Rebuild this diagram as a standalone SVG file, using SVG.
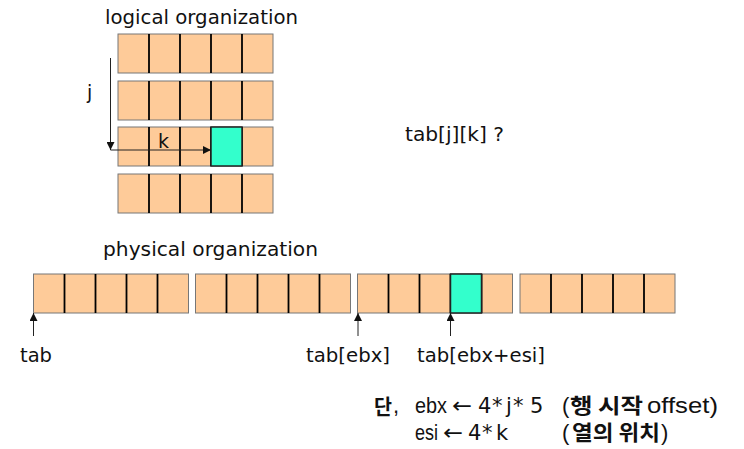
<svg xmlns="http://www.w3.org/2000/svg" width="744" height="449" viewBox="0 0 744 449">
<style>
.t{font-family:"DejaVu Sans","Noto Sans CJK KR",sans-serif;font-size:19px;fill:#111}
.b{font-family:"Liberation Sans","Noto Sans CJK KR",sans-serif;font-size:22px;fill:#111}
.s{font-family:"DejaVu Sans",sans-serif;font-size:21px;fill:#111}
.a{font-family:"DejaVu Sans",sans-serif;font-size:22px;fill:#111}
.kb{font-family:"Noto Sans CJK KR",sans-serif;font-weight:bold;font-size:21px;fill:#111}
.row{fill:#FECB99;stroke:#777;stroke-width:1}
.hl{fill:#33FFCC;stroke:#222;stroke-width:1.5}
.div{stroke:#000;stroke-width:1.8}
.ar{stroke:#222;stroke-width:1;fill:none}
</style>
<defs>
<marker id="ah" viewBox="0 0 10 10" refX="10" refY="5" markerWidth="8" markerHeight="8" markerUnits="userSpaceOnUse" orient="auto"><path d="M0,0 L10,5 L0,10 Z" fill="#111"/></marker>
<g id="block">
<rect class="row" x="0" y="0" width="155" height="39"/>
<line class="div" x1="31" y1="0" x2="31" y2="39"/>
<line class="div" x1="62" y1="0" x2="62" y2="39"/>
<line class="div" x1="93" y1="0" x2="93" y2="39"/>
<line class="div" x1="124" y1="0" x2="124" y2="39"/>
</g>
</defs>
<rect width="744" height="449" fill="#fff"/>

<g id="logical">
<text class="t" x="105" y="24" textLength="193" lengthAdjust="spacingAndGlyphs">logical organization</text>
<use href="#block" x="118" y="34"/>
<use href="#block" x="118" y="81"/>
<use href="#block" x="118" y="127"/>
<use href="#block" x="118" y="174"/>
<rect class="hl" x="211" y="127" width="31" height="39"/>
</g>

<g id="labels-jk">
<text class="t" x="87" y="99">j</text>
<text class="t" x="158" y="148">k</text>
</g>

<g id="question">
<text class="t" x="405" y="141" textLength="99" lengthAdjust="spacingAndGlyphs">tab[j][k] ?</text>
</g>

<g id="physical">
<text class="t" x="103" y="256" textLength="215" lengthAdjust="spacingAndGlyphs">physical organization</text>
<use href="#block" x="33.5" y="274"/>
<use href="#block" x="195.5" y="274"/>
<use href="#block" x="357.5" y="274"/>
<use href="#block" x="520" y="274"/>
<rect class="hl" x="450.5" y="274" width="31" height="39"/>
</g>

<g id="pointer-labels">
<text class="t" x="20" y="362" textLength="32" lengthAdjust="spacingAndGlyphs">tab</text>
<text class="t" x="306" y="362" textLength="84" lengthAdjust="spacingAndGlyphs">tab[ebx]</text>
<text class="t" x="417" y="362" textLength="128" lengthAdjust="spacingAndGlyphs">tab[ebx+esi]</text>
</g>

<g id="connectors">
<path class="ar" d="M110.5,58 V150" marker-end="url(#ah)"/>
<path class="ar" d="M110.5,150 H211" marker-end="url(#ah)"/>
<path class="ar" d="M33.5,336 V313" marker-end="url(#ah)"/>
<path class="ar" d="M358,336 V313" marker-end="url(#ah)"/>
<path class="ar" d="M450.5,336 V313" marker-end="url(#ah)"/>
</g>

<g id="note">
<text class="kb" x="374" y="414" textLength="18" lengthAdjust="spacingAndGlyphs">단</text>
<text class="b" x="393" y="413">,</text>
<text class="b" x="415" y="413" textLength="32" lengthAdjust="spacingAndGlyphs">ebx</text>
<text class="a" x="452" y="413" textLength="20" lengthAdjust="spacingAndGlyphs">←</text>
<text class="s" x="478 492 506 513" y="413">4*j*</text>
<text class="s" x="530" y="413" fill="#3333CC">5</text>
<text class="b" x="562" y="413">(</text>
<text class="kb" x="570" y="413" textLength="73" lengthAdjust="spacingAndGlyphs">행 시작</text>
<text class="b" x="647" y="413" textLength="71" lengthAdjust="spacingAndGlyphs">offset)</text>
<text class="b" x="415" y="440" textLength="23" lengthAdjust="spacingAndGlyphs">esi</text>
<text class="a" x="443" y="440" textLength="20" lengthAdjust="spacingAndGlyphs">←</text>
<text class="s" x="468 482 496" y="440">4*k</text>
<text class="b" x="562" y="440">(</text>
<text class="kb" x="572" y="440" textLength="88" lengthAdjust="spacingAndGlyphs">열의 위치</text>
<text class="b" x="661" y="440">)</text>
</g>
</svg>
